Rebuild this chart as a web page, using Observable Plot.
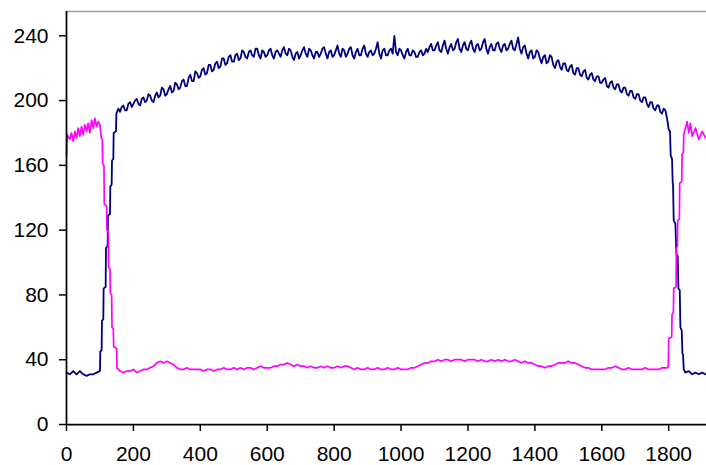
<!DOCTYPE html>
<html>
<head>
<meta charset="utf-8">
<script src="https://cdn.jsdelivr.net/npm/d3@7"></script>
<script src="https://cdn.jsdelivr.net/npm/@observablehq/plot@0.6"></script>
<style>
  html, body { margin: 0; padding: 0; background: #fff; }
  svg { display: block; }
</style>
</head>
<body>
<div id="chart"></div>
<script>
const xTicks = [0, 200, 400, 600, 800, 1000, 1200, 1400, 1600, 1800];
const yTicks = [0, 40, 80, 120, 160, 200, 240];

const navySeries = [[0,32],[10,31],[20,33],[30,31],[40,33],[50,31],[60,30],[70,31],[80,31],[90,32],[100,33],
[101,45],[105,46],[106,64],[110,65],[111,84],[117,85],[118,109],[123,110],[124,129],[130,130],[131,147],[135,148],[136,163],[140,164],[141,180],[148,181],[149,192],[155,195],
[160,193],[165,196],[170,197],[175,194],[180,194],[185,198],[190,199],[195,196],[200,198],[205,200],[210,201],[215,198],[220,197],[225,201],[230,202],[235,199],[240,200],[245,204],[250,203],[255,200],[260,199],[265,203],[270,205],[275,202],[280,203],[285,208],[290,207],[295,203],[300,204],[305,207],[310,209],[315,205],[320,206],[325,211],[330,210],[335,207],[340,208],[345,212],[350,213],[355,209],[360,209],[365,214],[370,216],[375,212],[380,212],[385,218],[390,217],[395,214],[400,215],[405,219],[410,220],[415,216],[420,217],[425,222],[430,222],[435,218],[440,219],[445,223],[450,224],[455,220],[460,221],[465,226],[470,226],[475,222],[480,223],[485,227],[490,228],[495,224],[500,224],[505,228],[510,229],[515,225],[520,226],[525,231],[530,230],[535,227],[540,226],[545,230],[550,231],[555,228],[560,227],[565,232],[570,232],[575,228],[580,226],[585,231],[590,230],[595,227],[600,228],[605,231],[610,232],[615,228],[620,226],[625,230],[630,231],[635,229],[640,227],[645,231],[650,233],[655,229],[660,228],[665,232],[670,231],[675,227],[680,225],[685,229],[690,230],[695,226],[700,228],[705,231],[710,233],[715,229],[720,227],[725,232],[730,231],[735,228],[740,226],[745,230],[750,230],[755,227],[760,229],[765,232],[770,233],[775,229],[780,226],[785,230],[790,231],[795,227],[800,228],[805,231],[810,234],[815,229],[820,227],[825,232],[830,231],[835,227],[840,229],[845,232],[850,233],[855,228],[860,226],[865,230],[870,232],[875,228],[880,228],[885,232],[890,234],[895,229],[900,227],[905,230],[910,231],[915,228],[920,229],[925,232],[930,236],[935,229],[940,226],[945,231],[950,232],[955,228],[960,228],[965,231],[970,232],[975,229],[980,240],[985,230],[990,228],[995,232],[1000,231],[1005,228],[1010,226],[1015,230],[1020,232],[1025,228],[1030,228],[1035,231],[1040,230],[1045,227],[1050,227],[1055,230],[1060,231],[1065,228],[1070,229],[1075,232],[1080,230],[1085,233],[1090,235],[1095,231],[1100,231],[1105,234],[1110,236],[1115,231],[1120,230],[1125,234],[1130,237],[1135,232],[1140,229],[1145,233],[1150,235],[1155,231],[1160,232],[1165,236],[1170,238],[1175,232],[1180,230],[1185,234],[1190,236],[1195,232],[1200,231],[1205,235],[1210,237],[1215,232],[1220,230],[1225,234],[1230,235],[1235,231],[1240,232],[1245,236],[1250,238],[1255,232],[1260,229],[1265,233],[1270,235],[1275,231],[1280,231],[1285,235],[1290,236],[1295,232],[1300,230],[1305,234],[1310,235],[1315,231],[1320,232],[1325,235],[1330,237],[1335,232],[1340,231],[1345,235],[1350,239],[1355,232],[1360,229],[1365,233],[1370,234],[1375,229],[1380,226],[1385,230],[1390,231],[1395,226],[1400,227],[1405,231],[1410,230],[1415,226],[1420,223],[1425,227],[1430,228],[1435,223],[1440,224],[1445,228],[1450,227],[1455,222],[1460,220],[1465,224],[1470,225],[1475,221],[1480,219],[1485,223],[1490,223],[1495,219],[1500,218],[1505,221],[1510,222],[1515,217],[1520,216],[1525,220],[1530,220],[1535,216],[1540,215],[1545,218],[1550,219],[1555,214],[1560,213],[1565,216],[1570,217],[1575,213],[1580,212],[1585,215],[1590,215],[1595,211],[1600,211],[1605,213],[1610,214],[1615,209],[1620,208],[1625,211],[1630,212],[1635,208],[1640,207],[1645,210],[1650,210],[1655,206],[1660,205],[1665,208],[1670,208],[1675,204],[1680,203],[1685,206],[1690,206],[1695,202],[1700,201],[1705,204],[1710,204],[1715,200],[1720,199],[1725,202],[1730,202],[1735,198],[1740,196],[1745,199],[1750,199],[1755,195],[1760,194],[1765,197],[1770,197],[1775,193],[1780,192],[1785,195],[1790,194],
[1796,188],[1800,182],[1804,181],[1806,166],[1810,164],[1812,149],[1813,148],[1815,126],[1820,124],[1823,105],[1827,104],[1829,84],[1833,83],[1835,60],[1839,58],[1841,44],[1843,43],[1845,34],[1850,32],[1860,33],[1870,31],[1880,32],[1890,31],[1900,32],[1910,31]];

const magentaSeries = [[0,166],[2,179],[10,176],[15,180],[20,175],[25,181],[30,177],[35,183],[40,178],[45,184],[50,179],[55,185],[60,181],[65,186],[70,180],[75,188],[80,183],[85,189],[90,184],[95,187],[100,185],
[104,177],[107,176],[108,161],[112,160],[113,136],[120,135],[121,120],[125,119],[126,97],[130,96],[131,81],[135,80],[136,60],[140,59],[141,48],[150,47],[151,35],
[160,33],[170,32],[180,33],[190,33],[200,34],[210,32],[220,33],[230,34],[240,34],[250,35],[260,36],[270,38],[280,39],[290,38],[300,39],[310,38],[320,37],[330,35],[340,34],[350,34],[360,35],[370,34],[380,34],[390,34],[400,34],
[410,33],[420,34],[430,34],[440,33],[450,34],[460,34],[470,35],[480,34],[490,34],[500,35],[510,34],[520,35],[530,34],[540,35],[550,35],[560,34],[570,35],[580,36],[590,35],[600,35],[610,35],[620,36],[630,36],[640,37],[650,37],[660,38],[670,37],[680,36],[690,37],[700,36],[710,36],[720,35],[730,36],[740,35],[750,35],[760,36],[770,35],[780,36],[790,35],[800,35],[810,36],[820,35],[830,36],[840,36],[850,35],[860,34],[870,35],[880,34],[890,34],[900,35],[910,34],[920,34],[930,35],[940,34],[950,34],[960,35],[970,34],[980,34],[990,35],[1000,34],[1010,34],[1020,34],[1030,35],[1040,35],[1050,36],[1060,37],[1070,38],[1080,38],[1090,39],[1100,39],[1110,40],[1120,39],[1130,40],[1140,40],[1150,39],[1160,40],[1170,40],[1180,40],[1190,39],[1200,40],[1210,40],[1220,40],[1230,39],[1240,40],[1250,39],[1260,39],[1270,40],[1280,39],[1290,40],[1300,39],[1310,40],[1320,39],[1330,39],[1340,40],[1350,39],[1360,38],[1370,39],[1380,38],[1390,38],[1400,37],[1410,36],[1420,36],[1430,35],[1440,36],[1450,36],[1460,37],[1470,38],[1480,38],[1490,38],[1500,39],[1510,38],[1520,38],[1530,37],[1540,36],[1550,35],[1560,35],[1570,34],[1580,34],[1590,34],[1600,34],[1610,34],[1620,35],[1630,35],[1640,36],[1650,35],[1660,34],[1670,34],[1680,35],[1690,34],[1700,34],[1710,34],[1720,34],[1730,35],[1740,34],[1750,34],[1760,34],[1770,34],[1780,35],[1790,35],
[1796,35],[1799,36],[1800,53],[1809,54],[1810,68],[1814,69],[1815,84],[1822,85],[1823,109],[1826,110],[1827,126],[1832,127],[1833,149],[1839,150],[1840,167],[1844,168],[1845,179],[1850,183],[1855,187],[1860,180],[1865,186],[1870,178],[1880,183],[1890,176],[1900,181],[1910,177]];

const xDomain = [0, 1913];
const yDomain = [0, 255];

const chart = Plot.plot({
  width: 706,
  height: 465,
  marginLeft: 66,
  marginRight: 0,
  marginTop: 11,
  marginBottom: 41,
  style: { fontFamily: "'Liberation Sans', Arial, sans-serif", fontSize: "21px", color: "#000", background: "#fff", overflow: "visible" },
  x: { domain: xDomain, label: null },
  y: { domain: yDomain, label: null },
  marks: [
    Plot.ruleY([yDomain[1]], { stroke: "#a0a0a0", strokeWidth: 1.5 }),
    Plot.line(navySeries, { x: d => d[0], y: d => d[1], stroke: "#000080", strokeWidth: 1.8 }),
    Plot.line(magentaSeries, { x: d => d[0], y: d => d[1], stroke: "#ff00ff", strokeWidth: 1.7 }),
    Plot.ruleX([0], { stroke: "#000", strokeWidth: 1.75 }),
    Plot.ruleY([0], { stroke: "#000", strokeWidth: 1.75 }),
    Plot.axisX({ ticks: xTicks, tickSize: 7, tickPadding: 15, tickFormat: d => `${d}`, fontSize: 21, strokeWidth: 1.5, label: null }),
    Plot.axisY({ ticks: yTicks, tickSize: 7, tickPadding: 11, tickFormat: d => `${d}`, fontSize: 21, strokeWidth: 1.5, label: null })
  ]
});
document.getElementById("chart").appendChild(chart);
</script>
</body>
</html>
